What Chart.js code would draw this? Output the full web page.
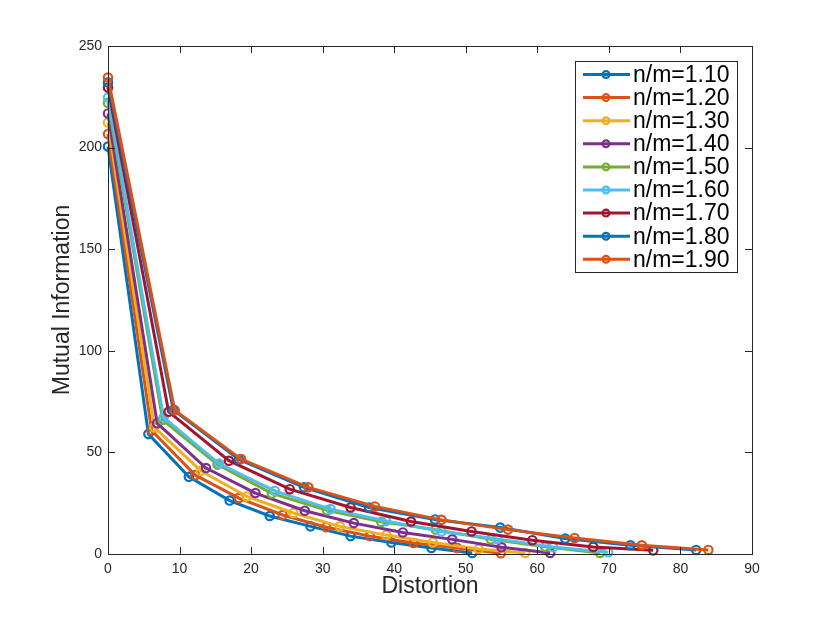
<!DOCTYPE html>
<html>
<head>
<meta charset="utf-8">
<title>Mutual Information vs Distortion</title>
<script src="https://cdn.jsdelivr.net/npm/chart.js@4/dist/chart.umd.min.js"></script>
<style>
    html, body { margin: 0; padding: 0; background: #ffffff; }
    #myChart { display: block; }
</style>
</head>
<body>
<canvas id="myChart" width="830" height="623"></canvas>
<script>
// values
const seriesLabels = ['n/m=1.10', 'n/m=1.20', 'n/m=1.30', 'n/m=1.40', 'n/m=1.50', 'n/m=1.60', 'n/m=1.70', 'n/m=1.80', 'n/m=1.90'];
const seriesColors = ['#0072BD', '#D95319', '#EDB120', '#7E2F8E', '#77AC30', '#4DBEEE', '#A2142F', '#0072BD', '#D95319'];

const distortion110 = [0, 5.65, 11.3, 17.0, 22.6, 28.3, 33.9, 39.6, 45.2, 50.9];
const information110 = [200.5, 59.0, 38.0, 26.3, 18.7, 13.6, 8.8, 5.7, 3.0, 0.5];

const distortion120 = [0, 6.1, 12.2, 18.3, 24.4, 30.5, 36.6, 42.7, 48.8, 54.9];
const information120 = [206.7, 60.8, 38.8, 27.5, 19.2, 13.2, 8.8, 5.4, 3.0, 0.4];

const distortion130 = [0, 6.48, 12.96, 19.4, 25.9, 32.4, 38.9, 45.4, 51.8, 58.3];
const information130 = [212.4, 62.3, 41.0, 28.3, 20.2, 13.6, 9.3, 5.7, 2.5, 0.5];

const distortion140 = [0, 6.87, 13.7, 20.6, 27.5, 34.35, 41.2, 48.1, 55.0, 61.8];
const information140 = [216.8, 64.4, 42.3, 30.0, 21.3, 15.2, 10.6, 7.2, 3.3, 0.5];

const distortion150 = [0, 7.64, 15.3, 22.9, 30.6, 38.2, 45.8, 53.5, 61.1, 68.75];
const information150 = [222.0, 66.0, 44.0, 29.8, 21.5, 15.8, 12.0, 7.2, 3.6, 0.5];

const distortion160 = [0, 7.77, 15.5, 23.3, 31.1, 38.85, 46.6, 54.4, 62.2, 69.9];
const information160 = [224.7, 67.2, 44.5, 31.1, 22.1, 16.2, 11.1, 7.4, 3.4, 0.9];

const distortion170 = [0, 8.47, 16.9, 25.4, 33.9, 42.35, 50.8, 59.3, 67.8, 76.2];
const information170 = [229.6, 70.0, 45.9, 31.9, 22.9, 16.0, 11.1, 6.8, 3.5, 1.8];

const distortion180 = [0, 9.13, 18.3, 27.4, 36.5, 45.7, 54.8, 63.9, 73.0, 82.2];
const information180 = [232.0, 70.9, 46.5, 32.8, 22.9, 17.0, 13.0, 7.6, 4.3, 2.0];

const distortion190 = [0, 9.32, 18.6, 28.0, 37.3, 46.6, 55.9, 65.2, 74.6, 83.9];
const information190 = [234.5, 70.8, 46.7, 32.8, 23.4, 16.8, 12.0, 7.9, 4.3, 2.0];

const xTicks = [0, 10, 20, 30, 40, 50, 60, 70, 80, 90];
const yTicks = [0, 50, 100, 150, 200, 250];

const allDistortion = [distortion110, distortion120, distortion130, distortion140, distortion150, distortion160, distortion170, distortion180, distortion190];
const allInformation = [information110, information120, information130, information140, information150, information160, information170, information180, information190];

const axisColor = '#262626';
const fontFamily = "'Liberation Sans', Arial, Helvetica, sans-serif";

// MATLAB style box with ticks pointing inwards on all four sides
const boxAxes = {
    id: 'boxAxes',
    afterDraw(chart)
    {
        const ctx = chart.ctx;
        const area = chart.chartArea;
        const xScale = chart.scales.x;
        const yScale = chart.scales.y;
        const tickLen = 7;

        ctx.save();
        ctx.strokeStyle = axisColor;
        ctx.lineWidth = 1;
        ctx.beginPath();
        xTicks.forEach((v) =>
        {
            const px = Math.round(xScale.getPixelForValue(v)) + 0.5;
            ctx.moveTo(px, area.bottom);
            ctx.lineTo(px, area.bottom - tickLen);
            ctx.moveTo(px, area.top);
            ctx.lineTo(px, area.top + tickLen);
        });
        yTicks.forEach((v) =>
        {
            const py = Math.round(yScale.getPixelForValue(v)) + 0.5;
            ctx.moveTo(area.left, py);
            ctx.lineTo(area.left + tickLen, py);
            ctx.moveTo(area.right, py);
            ctx.lineTo(area.right - tickLen, py);
        });
        ctx.stroke();
        ctx.strokeRect(Math.round(area.left) + 0.5, Math.round(area.top) + 0.5,
            Math.round(area.right - area.left), Math.round(area.bottom - area.top));
        ctx.restore();
    }
};

// legend box in the top right corner, line sample with a circle marker
const boxLegend = {
    id: 'boxLegend',
    afterDraw(chart)
    {
        const ctx = chart.ctx;
        const left = 575;
        const top = 61;
        const width = 162;
        const height = 211;
        const firstRow = 74.5;
        const rowStep = 23.1;

        ctx.save();
        ctx.fillStyle = '#ffffff';
        ctx.fillRect(left, top, width, height);
        ctx.strokeStyle = axisColor;
        ctx.lineWidth = 1;
        ctx.strokeRect(left + 0.5, top + 0.5, width, height);

        chart.data.datasets.forEach((ds, i) =>
        {
            const y = firstRow + i * rowStep;
            ctx.strokeStyle = ds.borderColor;
            ctx.lineWidth = 3;
            ctx.beginPath();
            ctx.moveTo(583, y);
            ctx.lineTo(630, y);
            ctx.stroke();

            ctx.lineWidth = 2.2;
            ctx.beginPath();
            ctx.arc(606, y, 3.4, 0, Math.PI * 2);
            ctx.stroke();

            ctx.fillStyle = '#000000';
            ctx.font = '23px ' + fontFamily;
            ctx.textAlign = 'left';
            ctx.textBaseline = 'middle';
            ctx.fillText(ds.label, 633, y + 1);
        });
        ctx.restore();
    }
};

const chartContext = document.getElementById('myChart').getContext('2d');

new Chart(chartContext, {
    type: 'line',
    data: {
        datasets: seriesLabels.map((label, i) =>
        {
            return {
                label: label,
                data: allDistortion[i].map((d, k) => ({ x: d, y: allInformation[i][k] })),
                borderColor: seriesColors[i],
                backgroundColor: 'rgba(0,0,0,0)',
                borderWidth: 3,
                tension: 0,
                pointStyle: 'circle',
                pointRadius: 4.2,
                pointBorderWidth: 2.2,
                pointBorderColor: seriesColors[i],
                pointBackgroundColor: 'rgba(0,0,0,0)',
                clip: false,
                order: seriesLabels.length - i,
            };
        })
    },
    options: {
        responsive: false,
        animation: false,
        layout: {
            padding: {
                top: 46,
                right: 78,
                left: 0,
                bottom: 0
            }
        },
        plugins: {
            legend: {
                display: false
            },
            tooltip: {
                enabled: false
            }
        },
        scales: {
            x: {
                type: 'linear',
                min: 0,
                max: 90,
                afterBuildTicks: (scale) =>
                {
                    scale.ticks = xTicks.map((v) => ({ value: v }));
                },
                afterFit: (scale) =>
                {
                    scale.height = 69;
                },
                grid: {
                    display: false,
                    drawTicks: false
                },
                border: {
                    display: false
                },
                ticks: {
                    color: axisColor,
                    padding: 7,
                    maxRotation: 0,
                    font: {
                        family: fontFamily,
                        size: 14
                    }
                },
                title: {
                    display: true,
                    text: 'Distortion',
                    color: axisColor,
                    padding: { top: 0, bottom: 23 },
                    font: {
                        family: fontFamily,
                        size: 23
                    }
                }
            },
            y: {
                type: 'linear',
                min: 0,
                max: 250,
                afterBuildTicks: (scale) =>
                {
                    scale.ticks = yTicks.map((v) => ({ value: v }));
                },
                afterFit: (scale) =>
                {
                    scale.width = 108;
                },
                grid: {
                    display: false,
                    drawTicks: false
                },
                border: {
                    display: false
                },
                ticks: {
                    color: axisColor,
                    padding: 6,
                    font: {
                        family: fontFamily,
                        size: 14
                    }
                },
                title: {
                    display: true,
                    text: 'Mutual Information',
                    color: axisColor,
                    padding: { top: 49, bottom: 0 },
                    font: {
                        family: fontFamily,
                        size: 23
                    }
                }
            }
        }
    },
    plugins: [boxAxes, boxLegend]
});
</script>
</body>
</html>
